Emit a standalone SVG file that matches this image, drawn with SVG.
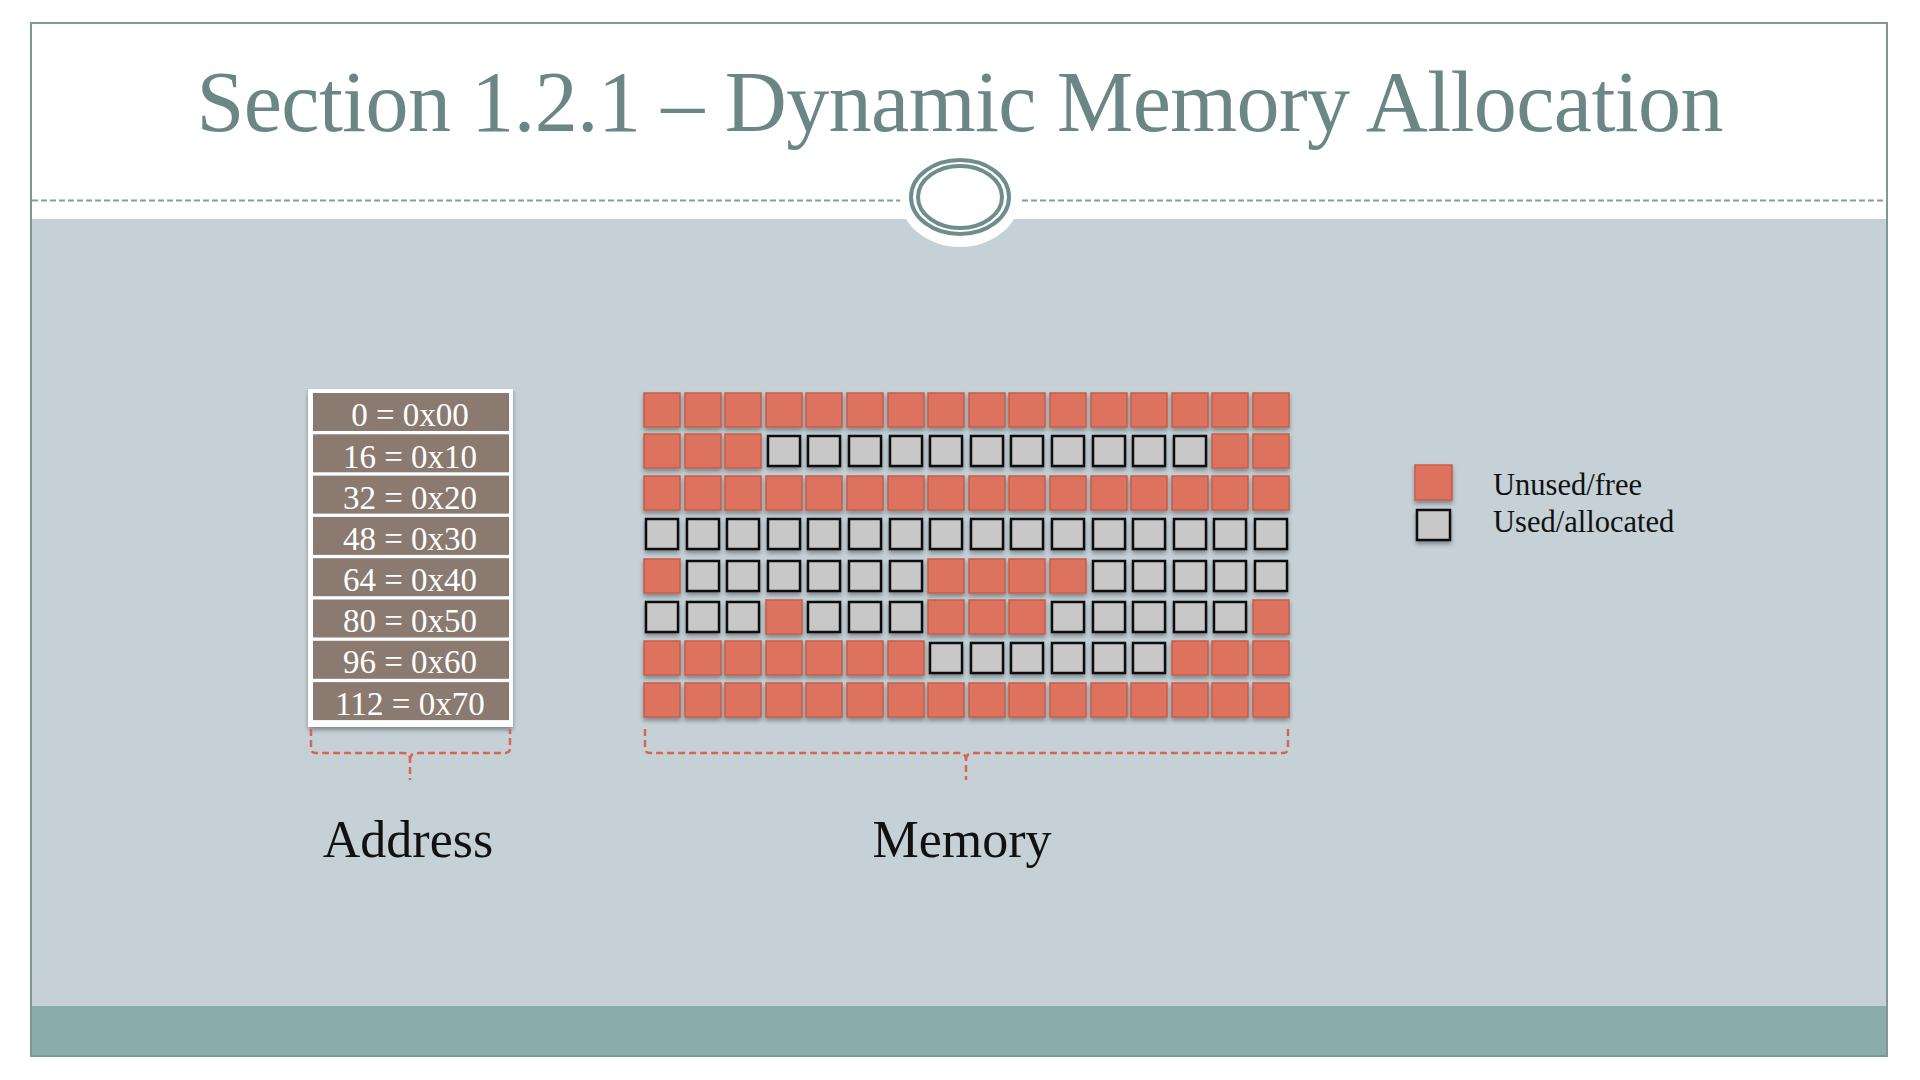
<svg xmlns="http://www.w3.org/2000/svg" xmlns:xlink="http://www.w3.org/1999/xlink" width="1920" height="1080" viewBox="0 0 1920 1080">
<style>
.title{font-family:"Liberation Serif","DejaVu Serif",serif;font-size:86px;fill:#6b8785}
.addr{font-family:"Liberation Serif","DejaVu Serif",serif;font-size:33px;fill:#ffffff;text-anchor:middle}
.lbl{font-family:"Liberation Serif","DejaVu Serif",serif;font-size:52px;fill:#111111;text-anchor:middle}
.leg{font-family:"Liberation Serif","DejaVu Serif",serif;font-size:30.5px;fill:#111111}
.row{fill:#8a7a70}
.brace{fill:none;stroke:#d9664c;stroke-width:2.5;stroke-dasharray:7 4}
</style>
<defs>
<filter id="sh" x="-30%" y="-30%" width="160%" height="170%">
<feDropShadow dx="0" dy="3" stdDeviation="2" flood-color="#000" flood-opacity="0.35"/>
</filter>
<rect id="o" x="0" y="0" width="36" height="34" fill="#dd735f" stroke="#c65d48" stroke-width="1.5"/>
<rect id="g" x="2" y="2" width="32" height="30" fill="#c8c8c8" stroke="#111111" stroke-width="2.5"/>
</defs>
<rect x="0" y="0" width="1920" height="1080" fill="#ffffff"/>
<g id="frame">
<rect x="31" y="23" width="1856" height="1033" fill="#ffffff" stroke="#7f9896" stroke-width="2"/>
<rect x="32" y="219" width="1854" height="787" fill="#c5d1d7"/>
<rect x="32" y="1006" width="1854" height="49" fill="#8aacac"/>
<line x1="32" y1="200.5" x2="1886" y2="200.5" stroke="#8a9a98" stroke-width="2" stroke-dasharray="6 3"/>
<ellipse cx="960" cy="197" rx="60" ry="50" fill="#ffffff"/>
<ellipse cx="960" cy="197" rx="49" ry="37" fill="none" stroke="#6e8e8c" stroke-width="4"/>
<ellipse cx="960" cy="197" rx="42" ry="31" fill="none" stroke="#6e8e8c" stroke-width="4"/>
</g>
<text class="title" x="960" y="131" text-anchor="middle" textLength="1527" lengthAdjust="spacing">Section 1.2.1 – Dynamic Memory Allocation</text>
<g id="address">
<rect x="308" y="389" width="205" height="338" fill="#ffffff" filter="url(#sh)"/>
<rect class="row" x="313" y="393" width="196" height="38"/>
<rect class="row" x="313" y="434.3" width="196" height="38"/>
<rect class="row" x="313" y="475.6" width="196" height="38"/>
<rect class="row" x="313" y="516.9" width="196" height="38"/>
<rect class="row" x="313" y="558.2" width="196" height="38"/>
<rect class="row" x="313" y="599.5" width="196" height="38"/>
<rect class="row" x="313" y="640.8" width="196" height="38"/>
<rect class="row" x="313" y="682.1" width="196" height="38"/>
<text class="addr" x="410" y="426">0 = 0x00</text>
<text class="addr" x="410" y="468">16 = 0x10</text>
<text class="addr" x="410" y="509">32 = 0x20</text>
<text class="addr" x="410" y="550">48 = 0x30</text>
<text class="addr" x="410" y="591">64 = 0x40</text>
<text class="addr" x="410" y="632">80 = 0x50</text>
<text class="addr" x="410" y="673">96 = 0x60</text>
<text class="addr" x="410" y="715">112 = 0x70</text>
</g>
<g id="memory" filter="url(#sh)">
<g transform="translate(0,393)">
<use href="#o" x="644"/><use href="#o" x="685"/><use href="#o" x="725"/><use href="#o" x="766"/><use href="#o" x="806"/><use href="#o" x="847"/><use href="#o" x="888"/><use href="#o" x="928"/><use href="#o" x="969"/><use href="#o" x="1009"/><use href="#o" x="1050"/><use href="#o" x="1091"/><use href="#o" x="1131"/><use href="#o" x="1172"/><use href="#o" x="1212"/><use href="#o" x="1253"/>
</g>
<g transform="translate(0,434)">
<use href="#o" x="644"/><use href="#o" x="685"/><use href="#o" x="725"/><use href="#g" x="766"/><use href="#g" x="806"/><use href="#g" x="847"/><use href="#g" x="888"/><use href="#g" x="928"/><use href="#g" x="969"/><use href="#g" x="1009"/><use href="#g" x="1050"/><use href="#g" x="1091"/><use href="#g" x="1131"/><use href="#g" x="1172"/><use href="#o" x="1212"/><use href="#o" x="1253"/>
</g>
<g transform="translate(0,476)">
<use href="#o" x="644"/><use href="#o" x="685"/><use href="#o" x="725"/><use href="#o" x="766"/><use href="#o" x="806"/><use href="#o" x="847"/><use href="#o" x="888"/><use href="#o" x="928"/><use href="#o" x="969"/><use href="#o" x="1009"/><use href="#o" x="1050"/><use href="#o" x="1091"/><use href="#o" x="1131"/><use href="#o" x="1172"/><use href="#o" x="1212"/><use href="#o" x="1253"/>
</g>
<g transform="translate(0,517)">
<use href="#g" x="644"/><use href="#g" x="685"/><use href="#g" x="725"/><use href="#g" x="766"/><use href="#g" x="806"/><use href="#g" x="847"/><use href="#g" x="888"/><use href="#g" x="928"/><use href="#g" x="969"/><use href="#g" x="1009"/><use href="#g" x="1050"/><use href="#g" x="1091"/><use href="#g" x="1131"/><use href="#g" x="1172"/><use href="#g" x="1212"/><use href="#g" x="1253"/>
</g>
<g transform="translate(0,559)">
<use href="#o" x="644"/><use href="#g" x="685"/><use href="#g" x="725"/><use href="#g" x="766"/><use href="#g" x="806"/><use href="#g" x="847"/><use href="#g" x="888"/><use href="#o" x="928"/><use href="#o" x="969"/><use href="#o" x="1009"/><use href="#o" x="1050"/><use href="#g" x="1091"/><use href="#g" x="1131"/><use href="#g" x="1172"/><use href="#g" x="1212"/><use href="#g" x="1253"/>
</g>
<g transform="translate(0,600)">
<use href="#g" x="644"/><use href="#g" x="685"/><use href="#g" x="725"/><use href="#o" x="766"/><use href="#g" x="806"/><use href="#g" x="847"/><use href="#g" x="888"/><use href="#o" x="928"/><use href="#o" x="969"/><use href="#o" x="1009"/><use href="#g" x="1050"/><use href="#g" x="1091"/><use href="#g" x="1131"/><use href="#g" x="1172"/><use href="#g" x="1212"/><use href="#o" x="1253"/>
</g>
<g transform="translate(0,641)">
<use href="#o" x="644"/><use href="#o" x="685"/><use href="#o" x="725"/><use href="#o" x="766"/><use href="#o" x="806"/><use href="#o" x="847"/><use href="#o" x="888"/><use href="#g" x="928"/><use href="#g" x="969"/><use href="#g" x="1009"/><use href="#g" x="1050"/><use href="#g" x="1091"/><use href="#g" x="1131"/><use href="#o" x="1172"/><use href="#o" x="1212"/><use href="#o" x="1253"/>
</g>
<g transform="translate(0,683)">
<use href="#o" x="644"/><use href="#o" x="685"/><use href="#o" x="725"/><use href="#o" x="766"/><use href="#o" x="806"/><use href="#o" x="847"/><use href="#o" x="888"/><use href="#o" x="928"/><use href="#o" x="969"/><use href="#o" x="1009"/><use href="#o" x="1050"/><use href="#o" x="1091"/><use href="#o" x="1131"/><use href="#o" x="1172"/><use href="#o" x="1212"/><use href="#o" x="1253"/>
</g>
</g>
<g id="connectors">
<path class="brace" d="M311 729 L311 748 Q311 753 316 753 L403 753 Q410 753 410 760 L410 780 M410 760 Q410 753 417 753 L505 753 Q510 753 510 748 L510 729"/>
<path class="brace" d="M645 729 L645 748 Q645 753 650 753 L959 753 Q966 753 966 760 L966 780 M966 760 Q966 753 973 753 L1283 753 Q1288 753 1288 748 L1288 729"/>
</g>
<g id="label-address"><text class="lbl" x="408" y="857">Address</text></g>
<g id="label-memory"><text class="lbl" x="962" y="857">Memory</text></g>
<g id="legend">
<g filter="url(#sh)">
<rect x="1415" y="465" width="37" height="35" fill="#dd735f" stroke="#c65d48" stroke-width="1.5"/>
<rect x="1417" y="510" width="33" height="30" fill="#c8c8c8" stroke="#111111" stroke-width="2.5"/>
</g>
<text class="leg" x="1493" y="495">Unused/free</text>
<text class="leg" x="1493" y="532">Used/allocated</text>
</g>
</svg>
